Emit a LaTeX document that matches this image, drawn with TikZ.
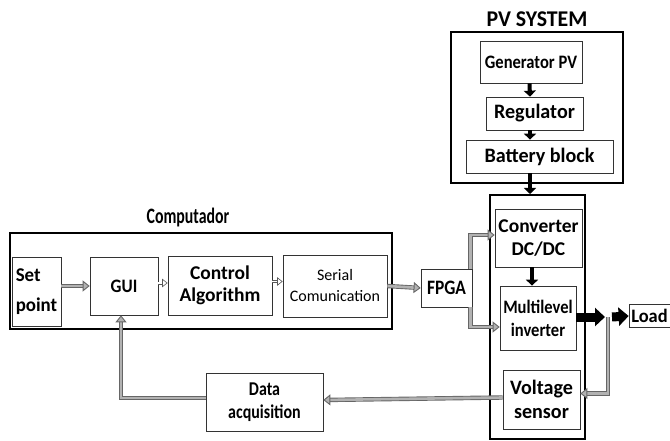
\documentclass[tikz,border=0pt]{standalone}
\usepackage{fontspec}
\setmainfont{Carlito}
\usetikzlibrary{arrows.meta}
\newcommand{\fsz}[3]{\bfseries\fontsize{#1}{#2}\selectfont\addfontfeature{FakeStretch=#3}}
\tikzset{
  blk/.style={draw=black!80, line width=0.7pt, fill=white, align=center, inner sep=0pt, font=\fsz{20}{22}{1}},
  outerbox/.style={draw=black, line width=2.6pt},
  garr/.style={draw=black!60, double=black!30, double distance=2.6pt, line width=0.9pt, -{Triangle[fill=black!30, length=7pt, width=11pt]}},
  sarr/.style={draw=black!65, double=white, double distance=1.8pt, line width=0.6pt, -{Triangle[open, fill=white, length=5.5pt, width=8.5pt]}},
  barr/.style={draw=black, line width=4pt, -{Triangle[length=6pt, width=12pt]}},
  bigbarr/.style={draw=black, line width=9pt, -{Triangle[length=10pt, width=18pt]}},
  ttl/.style={inner sep=0pt}
}
\begin{document}
\begin{tikzpicture}[x=1pt,y=-1pt]
\useasboundingbox (0,0) rectangle (670,441);
% PV system
\node[ttl, font=\fsz{22.5}{23}{0.97}] (pvt) at (537,19) {PV SYSTEM};
\node[outerbox, minimum width=172, minimum height=151, inner sep=0pt] (pv) at (537,107.5) {};
\node[blk, minimum width=102, minimum height=42, font=\fsz{19}{20}{0.87}] (gen) at (531,62) {Generator PV};
\node[blk, minimum width=97, minimum height=33, font=\fsz{20.5}{22}{0.98}] (reg) at (534.5,113.5) {Regulator};
\node[blk, minimum width=147, minimum height=33, font=\fsz{20.5}{22}{0.98}] (bat) at (539.5,156.5) {Battery block};
% power box
\node[draw=black, line width=2pt, minimum width=95, minimum height=244, inner sep=0pt] (pw) at (537.5,317) {};
\node[blk, minimum width=87, minimum height=58, font=\fsz{19.5}{23}{1}] (conv) at (538.5,238) {Converter\\DC/DC};
\node[blk, minimum width=76, minimum height=64, font=\fsz{19}{23}{0.87}] (multi) at (538,318) {Multilevel\\inverter};
\node[blk, minimum width=77, minimum height=59, font=\fsz{20.5}{24}{0.98}] (volt) at (541.5,399.5) {Voltage\\sensor};
\node[blk, minimum width=51, minimum height=38, font=\fsz{20.5}{21}{0.85}] (fpga) at (446.5,288) {FPGA};
\node[blk, minimum width=41, minimum height=23, font=\fsz{19}{19}{0.97}] (load) at (649.5,316) {Load};
% computer
\node[ttl, font=\fsz{22}{23}{0.72}] (compt) at (188,218) {Computador};
\node[outerbox, minimum width=382, minimum height=96, inner sep=0pt] (comp) at (201,281) {};
\node[blk, minimum width=49, minimum height=69, align=left, font=\fsz{19.5}{30}{0.97}] (set) at (36.5,291.5) {Set\\point};
\node[blk, minimum width=68, minimum height=58, font=\fsz{19}{20}{0.9}] (gui) at (124,286) {GUI};
\node[blk, minimum width=104, minimum height=59, font=\fsz{19.5}{22}{1}] (ctrl) at (220,285.5) {Control\\Algorithm};
\node[blk, minimum width=104, minimum height=62, font=\mdseries\fontsize{16}{21}\selectfont] (ser) at (335,286) {Serial\\Comunication};
\node[blk, minimum width=117, minimum height=58, font=\fsz{19.5}{23}{0.82}] (data) at (264.5,402) {Data\\acquisition};
% PV arrows
\draw[barr] ([xshift=-1.5pt]gen.south) -- ([xshift=-4.5pt]reg.north);
\draw[barr] ([xshift=-4.5pt]reg.south) -- ([xshift=-9.5pt]bat.north);
\draw[barr] ([xshift=-9.5pt]bat.south) -- ([xshift=-7.5pt]pw.north);
\draw[barr] ([xshift=-6.5pt]conv.south) -- ([xshift=-6pt]multi.north);
% computer arrows
\draw[garr] (set.east |- gui.west) -- (gui.west);
\draw[sarr] ([yshift=3pt]gui.east) -- ([yshift=3pt]ctrl.west |- gui.east);
\draw[sarr] ([yshift=4pt]ctrl.east) -- ([yshift=4pt]ser.west |- ctrl.east);
\draw[garr] (ser.east) -- (fpga.west);
% FPGA branches
\draw[garr] ([xshift=-2pt]fpga.north east) |- ([yshift=3pt]conv.west);
\draw[garr] ([xshift=-2pt]fpga.south east) |- ([yshift=-9pt]multi.west);
% output
\coordinate (j) at (608,317);
\draw[bigbarr] ([yshift=1pt]multi.east) -- (605,317);
\draw[bigbarr] (612,317) -- (load.west);
\draw[garr] (j) |- ([yshift=6pt]volt.east);
% feedback
\draw[garr] ([yshift=2pt]volt.west) -- ([yshift=2pt]data.east);
\draw[garr] ([yshift=4pt]data.west) -| ([xshift=-3pt]gui.south);
\end{tikzpicture}
\end{document}
